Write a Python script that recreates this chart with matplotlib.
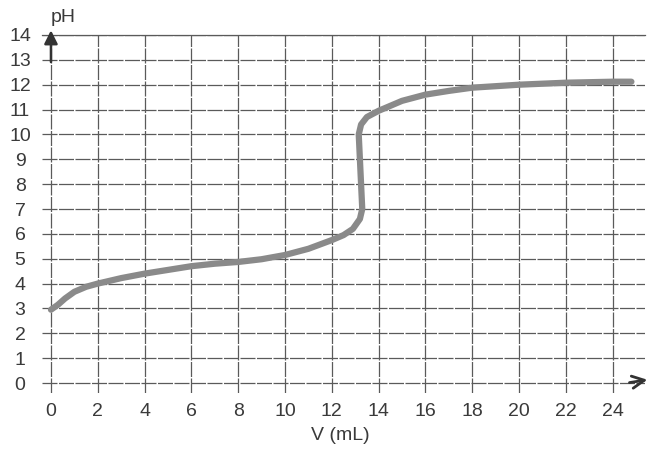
import matplotlib.pyplot as plt

# titration curve
vol = [0, 0.3, 0.6, 1.0, 1.5, 2, 3, 4, 5, 6, 7, 8, 9, 10, 11, 12, 12.5, 12.9,
       13.2, 13.3, 13.25, 13.2, 13.15, 13.25, 13.5, 14, 15, 16, 17, 18, 20, 22, 24, 24.8]
ph = [2.95, 3.15, 3.4, 3.67, 3.87, 4.0, 4.22, 4.4, 4.55, 4.7, 4.8, 4.87, 4.98, 5.15,
      5.4, 5.75, 5.95, 6.2, 6.6, 7.0, 8.0, 9.0, 10.0, 10.4, 10.7, 10.95, 11.35, 11.6,
      11.75, 11.88, 12.0, 12.08, 12.12, 12.12]

xticks = list(range(0, 25, 2))
yticks = list(range(0, 15))

plt.rcParams['font.family'] = ['Liberation Sans', 'DejaVu Sans']
txt = '#3a3a3a'
gridc = '#5a5a5a'

fig = plt.figure(figsize=(6.5, 4.5), dpi=100)
ax = fig.add_axes([0.064, 0.1267, 0.929, 0.7956])
ax.set_xlim(-0.4, 25.4)
ax.set_ylim(-0.4, 14.0)

for s in ax.spines.values():
    s.set_visible(False)

ax.set_xticks(xticks)
ax.set_yticks(yticks)
ax.grid(True, color=gridc, linewidth=0.9, linestyle=(0, (12, 1.2)))
ax.tick_params(length=0, labelsize=14, colors=txt)
ax.tick_params(axis='x', pad=7)
ax.tick_params(axis='y', pad=15.5)
for lab in ax.get_yticklabels():
    lab.set_horizontalalignment('center')

# top grid line sits on the edge
ax.axhline(14, color=gridc, linewidth=0.9, clip_on=False)

ax.plot(vol, ph, color='#8a8a8a', linewidth=4.5, solid_capstyle='round',
        solid_joinstyle='round', zorder=3)

# axis arrows
ax.annotate('', xy=(0, 14.3), xytext=(0, 12.8),
            arrowprops=dict(arrowstyle='-|>', color='#333333', lw=1.8,
                            mutation_scale=20), annotation_clip=False)
ax.annotate('', xy=(25.6, 0.15), xytext=(24.6, 0),
            arrowprops=dict(arrowstyle='->', color='#333333', lw=2.0,
                            mutation_scale=22), annotation_clip=False)

fig.text(63 / 650, 1 - 17 / 450, 'pH', fontsize=14, color=txt,
         ha='center', va='center')
fig.text(340 / 650, 1 - 436 / 450, 'V (mL)', fontsize=14, color=txt,
         ha='center', va='center')

fig.savefig('out.png', dpi=100)
